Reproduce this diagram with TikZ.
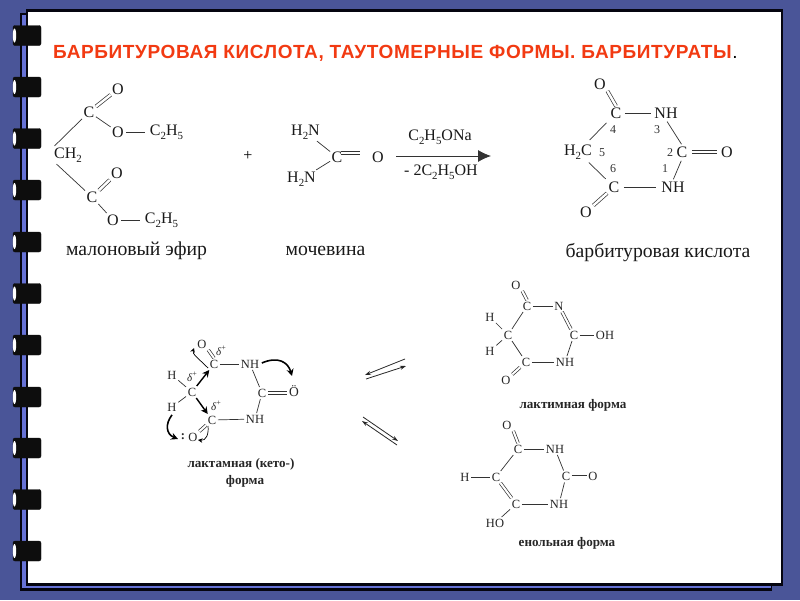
\documentclass[tikz,border=0pt]{standalone}
\usepackage{fontspec}
\setmainfont{Liberation Serif}
\newfontfamily\headfont[LetterSpace=3.3]{Liberation Sans}
\usetikzlibrary{arrows.meta,shapes.geometric}
\definecolor{bgblue}{HTML}{4A5598}
\definecolor{stripblue}{HTML}{6672D6}
\definecolor{frameblack}{HTML}{050510}
\definecolor{titlered}{HTML}{F23A12}
\newcommand{\lowd}[1]{\raisebox{-0.28em}{\fontsize{0.68em}{0.68em}\selectfont #1}}
\tikzset{
  atomL/.style={inner sep=1.4pt,font=\fontsize{16}{16}\selectfont,text=black!90},
  atomS/.style={inner sep=1.6pt,font=\fontsize{12.5}{12.5}\selectfont,text=black!85},
  numlab/.style={inner sep=0pt,font=\fontsize{12}{12}\selectfont,text=black!80},
  dlt/.style={inner sep=0pt,font=\fontsize{11}{11}\selectfont\itshape,text=black!85},
  caption/.style={inner sep=0pt,font=\fontsize{19.7}{19.7}\selectfont,text=black!90},
  smallcap/.style={inner sep=0pt,font=\fontsize{13.1}{13.1}\selectfont\bfseries,text=black!85},
  bond/.style={draw=black!80,line width=0.7pt},
  dbond/.style={draw=black!80,line width=0.7pt,double=white,double distance=2.4pt},
  sdbond/.style={dbond,double distance=2pt},
  push/.style={draw=black,line width=1.6pt,-{Stealth[length=7pt,width=7pt]}},
  thinpush/.style={draw=black,line width=0.7pt,-{Stealth[length=4.5pt,width=4.5pt]}},
  eqarrow/.style={draw=black!85,line width=0.8pt,-{Stealth[length=6pt,width=4pt]}},
  ringbody/.style={fill=black!95,draw=black!95,rounded corners=2pt,minimum width=28pt,minimum height=20pt,inner sep=0pt},
  ringhole/.style={fill=white,draw=none,ellipse,minimum width=3.4pt,minimum height=14pt,inner sep=0pt},
}
\begin{document}
\begin{tikzpicture}[x=1pt,y=-1pt]
\useasboundingbox (0,0) rectangle (800,600);
\fill[bgblue] (0,0) rectangle (800,600);
% back sheet and page
\fill[frameblack] (20,13) rectangle (772,591);
\fill[stripblue] (21.5,15) rectangle (770.5,588);
\fill[frameblack] (26,9) rectangle (783,585.5);
\fill[white] (28,11.5) rectangle (781,583);
% rings
\foreach \ry in {35.5,87,138.5,190,242,293.5,345,397,448,499.5,551}{
  \node[ringbody] at (27,\ry) {};
  \node[ringhole] at (14.5,\ry) {};
}
% title
\node[anchor=base west,inner sep=0pt,font=\headfont\fontsize{19}{19}\selectfont,text=titlered] (title) at (53,58)
  {\textbf{БАРБИТУРОВАЯ КИСЛОТА, ТАУТОМЕРНЫЕ ФОРМЫ. БАРБИТУРАТЫ}\textcolor{black}{.}};

% malonic ester
\node[atomL] (mC1) at (89,112) {C};
\node[atomL] (mO1) at (118,89) {O};
\node[atomL] (mO2) at (118,132) {O};
\node[atomL] (mE1) at (166.5,132) {C\lowd{2}H\lowd{5}};
\node[atomL] (mCH) at (68,155) {CH\lowd{2}};
\node[atomL] (mC2) at (92,197) {C};
\node[atomL] (mO3) at (117,173) {O};
\node[atomL] (mO4) at (113,220) {O};
\node[atomL] (mE2) at (161.5,220) {C\lowd{2}H\lowd{5}};
\draw[dbond] (mC1) -- (mO1);
\draw[bond] (mC1) -- (mO2);
\draw[bond,shorten <=1pt,shorten >=3pt] (mO2) -- (mE1);
\draw[bond] (mCH.north west) ++(2,0) coordinate (mCHa) (mCHa) -- (mC1);
\draw[bond] (mCH.south west) ++(4,0) coordinate (mCHb) (mCHb) -- (mC2);
\draw[dbond] (mC2) -- (mO3);
\draw[bond] (mC2) -- (mO4);
\draw[bond,shorten <=1pt,shorten >=3pt] (mO4) -- (mE2);
\node[caption] (capM) at (136.5,250.5) {малоновый эфир};

\node[inner sep=0pt,font=\fontsize{16}{16}\selectfont] (plus) at (248,156) {+};

% urea
\node[atomL] (uN1) at (305.5,132) {H\lowd{2}N};
\node[atomL] (uC) at (337,157) {C};
\node[atomL] (uN2) at (301.5,179) {H\lowd{2}N};
\node[atomL] (uO) at (378,157) {O};
\coordinate (uB) at (360,153);
\draw[bond] (uN1) -- (uC);
\draw[bond] (uN2) -- (uC);
\draw[dbond] (uC.east |- uB) ++(-3,0) coordinate (uA) (uA) -- (uB);
\node[caption] (capU) at (325.5,250.5) {мочевина};

% condensation arrow
\coordinate (rS) at (396,156);
\coordinate (rE) at (491,156);
\draw[draw=black!80,line width=0.8pt,-{Latex[length=13pt,width=12pt]}] (rS) -- (rE);
\node[atomL] (rT) at (440,137) {C\lowd{2}H\lowd{5}ONa};
\node[atomL] (rB) at (441,172) {- 2C\lowd{2}H\lowd{5}OH};

% barbituric acid
\node[atomL] (bO1) at (600,84) {O};
\node[atomL] (bC4) at (616,113) {C};
\node[atomL] (bN3) at (666,113) {NH};
\node[atomL] (bC5) at (578,152) {H\lowd{2}C};
\node[atomL] (bC2) at (682,152) {C};
\node[atomL] (bO2) at (727,152) {O};
\node[atomL] (bC6) at (614,187) {C};
\node[atomL] (bN1) at (673,187) {NH};
\node[atomL] (bO3) at (586,212) {O};
\draw[dbond] (bO1.south east) -- (bC4.north);
\draw[bond,shorten <=2pt,shorten >=2pt] (bC4) -- (bN3);
\draw[bond,shorten <=2pt,shorten >=1pt] (bN3.south) -- (bC2.north);
\draw[dbond,shorten <=3pt,shorten >=3pt] (bC2) -- (bO2);
\draw[bond,shorten <=2pt,shorten >=1pt] (bC2.south) -- (bN1.north);
\draw[bond,shorten <=3pt,shorten >=4pt] (bC6) -- (bN1);
\draw[bond,shorten <=4pt,shorten >=4pt] (bC4) -- (bC5);
\draw[bond,shorten <=2pt,shorten >=2pt] (bC5) -- (bC6);
\draw[dbond] (bC6) -- (bO3);
\node[numlab] (n4) at (613,130) {4};
\node[numlab] (n3) at (657,130) {3};
\node[numlab] (n5) at (602,153) {5};
\node[numlab] (n2) at (670,153) {2};
\node[numlab] (n6) at (613,169) {6};
\node[numlab] (n1) at (665,169) {1};
\node[caption] (capB) at (658,253) {барбитуровая кислота};

% lactam form
\node[atomS] (aO1) at (202,344) {O};
\node[atomS] (aC4) at (214,364) {C};
\node[atomS] (aN3) at (250,364) {NH};
\node[atomS] (aH1) at (172,375) {H};
\node[atomS] (aC5) at (192,392) {C};
\node[atomS] (aC2) at (262,393) {C};
\node[atomS,font=\fontsize{13.5}{13.5}\selectfont] (aO2) at (294,391) {Ö};
\node[atomS] (aH2) at (172,407) {H};
\node[atomS] (aC6) at (212,420) {C};
\node[atomS] (aN1) at (255,419) {NH};
\node[atomS] (aO3) at (193,437) {O};
\node[atomS,inner sep=0pt] (aCol) at (183,436.5) {\textbf{:}};
\draw[sdbond] (aO1.south east) -- (aC4.north);
\draw[bond] (aC4) -- (aN3);
\draw[bond] (aN3) -- (aC2);
\draw[sdbond] (aC2) -- (aO2.south west |- aC2);
\draw[bond] (aC2) -- (aN1);
\draw[bond] (aC6) -- (aN1);
\draw[bond] (aH1) -- (aC5);
\draw[bond] (aH2) -- (aC5);
\draw[sdbond] (aC6) -- (aO3);
\draw[push,line width=1.4pt] (aC5) -- (aC4);
\draw[push,line width=1.4pt] (aC5) -- (aC6);
\draw[push] (aN3.east) ++(1,-1) coordinate (aNs) (aNs) .. controls (278,356) and (288,362) .. (292,376);
\draw[push] (aH2.south) ++(0,2) coordinate (aHs) (aHs) .. controls (165,424) and (166,434) .. (178,439);
\draw[thinpush] (aC4.south west) ++(0,-2) coordinate (aCa) (aCa) .. controls (198,358) and (192,354) .. (194,348);
\draw[thinpush] (aC6.south) ++(-4,0) coordinate (aCb) (aCb) .. controls (209,434) and (206,441) .. (198,440);
\node[dlt] (d1) at (221,351) {δ\raisebox{0.45em}{\upshape\fontsize{8}{8}\selectfont +}};
\node[dlt] (d2) at (192,377) {δ\raisebox{0.45em}{\upshape\fontsize{8}{8}\selectfont +}};
\node[dlt] (d3) at (216,406) {δ\raisebox{0.45em}{\upshape\fontsize{8}{8}\selectfont +}};
\node[smallcap] (capA1) at (241,464) {лактамная (кето-)};
\node[smallcap] (capA2) at (245,481) {форма};

% equilibrium arrows
\coordinate (e1a) at (405,359); \coordinate (e1b) at (365,375);
\coordinate (e2a) at (366,379); \coordinate (e2b) at (406,366);
\coordinate (e3a) at (363,417); \coordinate (e3b) at (398,441);
\coordinate (e4a) at (397,445); \coordinate (e4b) at (362,421);
\draw[eqarrow] (e1a) -- (e1b);
\draw[eqarrow] (e2a) -- (e2b);
\draw[eqarrow] (e3a) -- (e3b);
\draw[eqarrow] (e4a) -- (e4b);

% lactim form
\node[atomS] (lO1) at (516,285) {O};
\node[atomS] (lC4) at (527,306) {C};
\node[atomS] (lN3) at (559,306) {N};
\node[atomS] (lH1) at (490,317) {H};
\node[atomS] (lC5) at (508,335) {C};
\node[atomS] (lC2) at (574,335) {C};
\node[atomS] (lOH) at (605,335) {OH};
\node[atomS] (lH2) at (490,351) {H};
\node[atomS] (lC6) at (526,362) {C};
\node[atomS] (lN1) at (565,362) {NH};
\node[atomS] (lO3) at (506,380) {O};
\draw[sdbond] (lO1.south east) -- (lC4.north);
\draw[bond] (lC4) -- (lN3);
\draw[sdbond] (lN3) -- (lC2);
\draw[bond] (lC2) -- (lOH);
\draw[bond] (lC2) -- (lN1);
\draw[bond] (lC6) -- (lN1);
\draw[bond] (lC4) -- (lC5);
\draw[bond] (lC5) -- (lC6);
\draw[bond] (lH1) -- (lC5);
\draw[bond] (lH2) -- (lC5);
\draw[sdbond] (lC6) -- (lO3);
\node[smallcap] (capL) at (573,405) {лактимная форма};

% enol form
\node[atomS] (nO1) at (507,425) {O};
\node[atomS] (nC4) at (518,449) {C};
\node[atomS] (nN3) at (555,449) {NH};
\node[atomS] (nC2) at (566,476.5) {C};
\node[atomS] (nO2) at (593,476.5) {O};
\node[atomS] (nH) at (465,477) {H};
\node[atomS] (nC5) at (496,477) {C};
\node[atomS] (nC6) at (516,504) {C};
\node[atomS] (nN1) at (559,504) {NH};
\node[atomS] (nHO) at (495,523) {HO};
\draw[sdbond] (nO1.south east) -- (nC4.north);
\draw[bond] (nC4) -- (nN3);
\draw[bond] (nN3) -- (nC2);
\draw[sdbond] (nC2) -- (nO2);
\draw[bond] (nC2) -- (nN1);
\draw[bond] (nC6) -- (nN1);
\draw[bond] (nH) -- (nC5);
\draw[bond] (nC5) -- (nC4);
\draw[sdbond] (nC5) -- (nC6);
\draw[bond] (nC6) -- (nHO);
\node[smallcap] (capN) at (567,543) {енольная форма};
\end{tikzpicture}
\end{document}
